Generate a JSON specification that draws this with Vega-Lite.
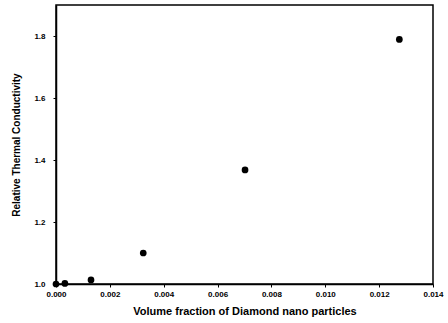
{
  "$schema": "https://vega.github.io/schema/vega-lite/v6.json",
  "width": 377,
  "height": 279,
  "autosize": {"type": "none"},
  "padding": {"left": 56, "top": 5, "right": 15, "bottom": 39},
  "background": "white",
  "config": {
    "view": {"stroke": "black", "strokeWidth": 1.5},
    "font": "Liberation Sans"
  },
  "data": {
    "values": [
      {"phi": 0.0, "k": 1.0},
      {"phi": 0.00033, "k": 1.002},
      {"phi": 0.0013, "k": 1.013},
      {"phi": 0.00324, "k": 1.10},
      {"phi": 0.00702, "k": 1.368},
      {"phi": 0.01275, "k": 1.789}
    ]
  },
  "mark": {"type": "point", "filled": true, "color": "black", "size": 45, "opacity": 1, "clip": false},
  "encoding": {
    "x": {
      "field": "phi", "type": "quantitative",
      "scale": {"domain": [0, 0.014], "nice": false, "zero": false},
      "axis": {
        "title": "Volume fraction of Diamond nano particles",
        "values": [0, 0.002, 0.004, 0.006, 0.008, 0.01, 0.012, 0.014],
        "format": ".3f", "grid": false, "domainColor": "black", "domainWidth": 1.5,
        "tickColor": "black", "tickSize": 3, "labelFont": "Liberation Sans", "labelFontWeight": "bold",
        "labelFontSize": 8, "labelColor": "black", "labelPadding": 3, "labelFlush": false, "labelOverlap": false,
        "titleFont": "Liberation Sans", "titleFontWeight": "bold", "titleFontSize": 11,
        "titleColor": "black", "titlePadding": 7
      }
    },
    "y": {
      "field": "k", "type": "quantitative",
      "scale": {"domain": [1.0, 1.9], "nice": false, "zero": false},
      "axis": {
        "title": "Relative Thermal Conductivity",
        "values": [1.0, 1.2, 1.4, 1.6, 1.8],
        "format": ".1f", "grid": false, "domainColor": "black", "domainWidth": 1.5,
        "tickColor": "black", "tickSize": 3, "labelFont": "Liberation Sans", "labelFontWeight": "bold",
        "labelFontSize": 8, "labelColor": "black", "labelPadding": 8, "labelFlush": false, "labelOverlap": false,
        "titleFont": "Liberation Sans", "titleFontWeight": "bold", "titleFontSize": 10,
        "titleColor": "black", "titlePadding": 12
      }
    }
  }
}
